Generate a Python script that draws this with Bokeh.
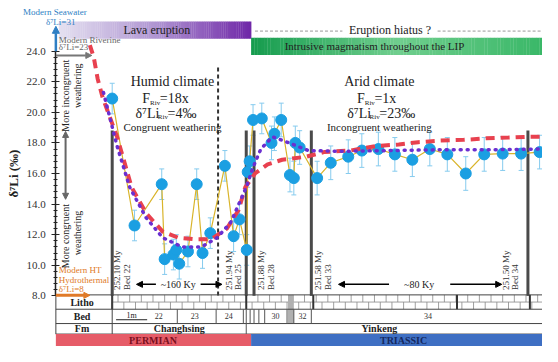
import numpy as np
from bokeh.plotting import figure
from bokeh.models import (Range1d, FixedTicker, PrintfTickFormatter, Label, Arrow,
                          NormalHead, Whisker, TeeHead, ColumnDataSource)
from bokeh.embed import file_html
from bokeh.resources import INLINE

# ---------------- data ----------------
# stratigraphic position along the section (arbitrary units) and measured d7Li (permil)
sample_pos = [115, 138, 166, 169, 178, 181, 184, 193, 202, 208,
              216, 231, 240, 246, 253.5, 254.5, 256.5, 260, 269, 279,
              282, 289, 298, 302, 303.5, 308, 326, 340, 358, 372,
              389, 406, 424, 442, 460, 479, 498, 517, 536, 555]
d7li = [20.9, 12.6, 15.3, 10.4, 10.7, 11.0, 10.1, 10.9, 15.3, 10.8,
        12.1, 16.5, 11.9, 13.0, 11.0, 16.1, 16.8, 19.5, 19.6, 18.0,
        18.6, 19.5, 15.9, 15.7, 18.0, 17.7, 15.7, 16.7, 17.1, 17.5,
        17.6, 17.25, 16.9, 17.6, 17.25, 16.0, 17.25, 17.3, 17.3, 17.4]
d7li_err = [1.0, 1.0, 1.0, 1.0, 1.0, 1.0, 1.0, 1.0, 1.0, 1.0,
            1.0, 1.0, 1.0, 1.0, 1.0, 1.0, 1.0, 1.0, 1.0, 1.1,
            1.1, 1.1, 1.1, 1.1, 1.1, 1.1, 1.1, 1.1, 1.1, 1.1,
            1.1, 1.1, 1.1, 1.1, 1.1, 1.1, 1.1, 1.1, 1.1, 1.1]

# model curve A (red dashed)
model_a_pos = [92, 96, 100, 105, 120, 135, 150, 167, 183, 200,
               217, 233, 245, 252, 262, 275, 290, 315, 333, 360,
               387, 410, 430, 453, 477, 500, 523, 543, 558]
model_a_val = [24.4, 23.6, 22.2, 21.0, 18.4, 15.1, 13.4, 12.2, 11.8, 11.7,
               11.7, 12.4, 13.6, 15.1, 16.0, 16.6, 16.9, 17.1, 17.4, 17.5,
               17.8, 17.9, 18.05, 18.15, 18.2, 18.3, 18.35, 18.4, 18.4]
# model curve B (purple dotted)
model_b_pos = [106, 120, 133, 150, 167, 187, 207, 223, 237, 253,
               260, 268, 280, 293, 317, 350, 400, 450, 500, 558]
model_b_val = [21.3, 17.8, 15.1, 13.1, 11.8, 11.2, 11.2, 11.8, 12.8, 15.1,
               16.4, 17.6, 18.4, 18.1, 17.5, 17.45, 17.5, 17.55, 17.55, 17.6]

# stratigraphic markers
marker_pos = [115, 224, 253, 261, 320, 543]
marker_dashed = [False, True, False, False, False, False]
age_labels = ["252.10 My", "251.94 My", "251.88 My", "251.58 My", "251.50 My"]
bed_labels = ["Bed 22", "Bed 25", "Bed 28", "Bed 33", "Bed 34"]
age_label_pos = [120, 235, 268, 327, 520]

bed_names = ["22", "23", "24", "30", "32", "34"]
bed_name_pos = [163, 200, 235, 283, 311, 440]
bed_dividers = [182, 222, 250, 253, 257, 261, 266, 272, 295, 302, 320]

y_ticks = [8, 10, 12, 14, 16, 18, 20, 22, 24]

# ---------------- layout helpers ----------------
W, H = 542, 346
X0, X1 = 0, 558
AX = 57          # position of the d7Li axis within the panel


def yv(py):
    return 24 - (py - 53) / 16.0


Y0, Y1 = yv(362), yv(0)
SERIF = "Liberation Serif"

p = figure(width=W, height=H, x_range=Range1d(X0, X1), y_range=Range1d(Y0, Y1),
           output_backend="svg", toolbar_location=None, x_axis_type=None,
           min_border=0)
p.outline_line_color = None
p.ygrid.grid_line_color = None
p.background_fill_color = "white"

ax = p.yaxis[0]
ax.fixed_location = AX
ax.bounds = (8, 24)
ax.ticker = FixedTicker(ticks=y_ticks, minor_ticks=list(np.arange(8, 24.01, 0.4)))
ax.formatter = PrintfTickFormatter(format="%.1f")
ax.axis_line_color = "#222"
ax.axis_line_width = 1.5
ax.major_tick_in = 4
ax.major_tick_out = 4
ax.minor_tick_in = 2
ax.minor_tick_out = 2
ax.major_tick_line_color = "#222"
ax.minor_tick_line_color = "#222"
ax.major_label_text_font = SERIF
ax.major_label_text_font_size = "11px"
ax.major_label_text_color = "#333"
ax.major_label_standoff = 6
ax.axis_label = "δ⁷Li (‰)"
ax.axis_label_text_font = SERIF
ax.axis_label_text_font_size = "13px"
ax.axis_label_text_font_style = "bold"
ax.axis_label_text_color = "#222"
ax.axis_label_standoff = 2


def lab(x, py, text, size=11, color="#222", align="center", baseline="middle",
        angle=0.0, style="normal"):
    p.add_layout(Label(x=x, y=yv(py), text=text, text_font=SERIF,
                       text_font_size=f"{size}px", text_color=color,
                       text_align=align, text_baseline=baseline, angle=angle,
                       text_font_style=style))


def hexc(rgb):
    return "#%02x%02x%02x" % tuple(int(round(v)) for v in rgb)


def gradient_bar(x0, x1, pyt, pyb, stops, n=90):
    xs = np.linspace(x0, x1, n + 1)
    t = np.linspace(0, 1, n)
    st = np.array([s[0] for s in stops])
    cols = []
    for tt in t:
        c = [np.interp(tt, st, [s[1][k] for s in stops]) for k in range(3)]
        cols.append(hexc(c))
    p.quad(left=xs[:-1], right=xs[1:] + 0.3, top=[yv(pyt)] * n, bottom=[yv(pyb)] * n,
           fill_color=cols, line_color=None)


# ---------------- top bars ----------------
gradient_bar(60, 258, 22, 40, [(0, (228, 224, 240)), (0.5, (176, 150, 210)), (1, (112, 40, 168))])
gradient_bar(258, 558, 39, 57, [(0, (22, 156, 78)), (0.5, (112, 206, 142)), (1, (58, 184, 104))])
lab(161, 31, "Lava eruption", size=12)
lab(385, 48, "Intrusive magmatism throughout the LIP", size=11)
p.segment(x0=[262, 450], y0=[yv(32)] * 2, x1=[352, 558], y1=[yv(32)] * 2,
          line_color="#9a9a9a", line_dash="3 2", line_width=1)
lab(401, 31, "Eruption hiatus ?", size=12)

# ---------------- left-side references ----------------
p.add_layout(Arrow(end=NormalHead(size=7, fill_color="#2f7fc4", line_color="#2f7fc4"),
                   x_start=AX, y_start=24, x_end=AX, y_end=yv(27),
                   line_color="#2f7fc4", line_width=2.5))
lab(56, 12, "Modern Seawater", size=9, color="#2f7fc4")
lab(62, 22, "δ⁷Li=31", size=9, color="#2f7fc4")

p.add_layout(Arrow(end=NormalHead(size=6, fill_color="#777", line_color="#777"),
                   x_start=AX, y_start=yv(57.5), x_end=94, y_end=yv(57.5),
                   line_color="#777", line_width=2))
lab(60, 41, "Modern Riverine", size=9, color="#666", align="left")
lab(60, 49, "δ⁷Li=23", size=9, color="#666", align="left")

p.add_layout(Arrow(end=NormalHead(size=6, fill_color="#e07a28", line_color="#e07a28"),
                   x_start=AX, y_start=yv(308.5), x_end=92, y_end=yv(308.5),
                   line_color="#e07a28", line_width=3))
lab(60, 282, "Modern HT", size=9, color="#e07a28", align="left")
lab(60, 292, "Hydrothermal", size=9, color="#e07a28", align="left")
lab(60, 302, "δ⁷Li=8", size=9, color="#e07a28", align="left")

lab(67, 62, "More incongruent", size=10, align="right", angle=np.pi / 2)
lab(79, 66, "weathering", size=10, align="right", angle=np.pi / 2)
lab(67, 213, "More congruent", size=10, align="right", angle=np.pi / 2)
lab(79, 220, "weathering", size=10, align="right", angle=np.pi / 2)
p.add_layout(Arrow(start=NormalHead(size=6, fill_color="#666", line_color="#666"),
                   end=NormalHead(size=6, fill_color="#666", line_color="#666"),
                   x_start=67, y_start=yv(137), x_end=67, y_end=yv(208),
                   line_color="#666", line_width=2))

# ---------------- stratigraphic marker lines ----------------
for xm, dashed in zip(marker_pos, marker_dashed):
    if dashed:
        p.segment(x0=[xm], y0=[yv(70)], x1=[xm], y1=[8], line_color="#333",
                  line_width=2, line_dash="4 3")
    else:
        p.segment(x0=[xm], y0=[yv(136)], x1=[xm], y1=[8], line_color="#4a4a4a",
                  line_width=3)

for xl, a, b in zip(age_label_pos, age_labels, bed_labels):
    lab(xl, 303, a, size=9, color="#333", align="left", angle=np.pi / 2)
    lab(xl + 10, 303, b, size=9, color="#333", align="left", angle=np.pi / 2)

# durations
for xs, xe in [(160, 140), (206, 228), (400, 348), (463, 516)]:
    p.add_layout(Arrow(end=NormalHead(size=6, fill_color="black", line_color="black"),
                       x_start=xs, y_start=yv(297), x_end=xe, y_end=yv(297),
                       line_color="black", line_width=1.5))
lab(183, 297, "~160 Ky", size=10)
lab(431, 297, "~80 Ky", size=10)

# ---------------- climate annotations ----------------
lab(177, 85, "Humid climate", size=14)
lab(146, 103, "F", size=14, align="left")
lab(154, 107, "Riv", size=7, align="left")
lab(164, 103, "=18x", size=14, align="left")
lab(139, 118, "δ⁷Li", size=14, align="left")
lab(162, 122, "Riv", size=7, align="left")
lab(172, 118, "=4‰", size=14, align="left")
lab(177, 132, "Congruent weathering", size=11)

lab(390, 85, "Arid climate", size=14)
lab(367, 103, "F", size=14, align="left")
lab(375, 107, "Riv", size=7, align="left")
lab(385, 103, "=1x", size=14, align="left")
lab(357, 118, "δ⁷Li", size=14, align="left")
lab(380, 122, "Riv", size=7, align="left")
lab(390, 118, "=23‰", size=14, align="left")
lab(390, 132, "Incongruent weathering", size=11)

# ---------------- data ----------------
src = ColumnDataSource(dict(x=sample_pos, y=d7li,
                            upper=[v + e for v, e in zip(d7li, d7li_err)],
                            lower=[v - e for v, e in zip(d7li, d7li_err)]))
p.line("x", "y", source=src, line_color="#d9b42a", line_width=1.2)
p.add_layout(Whisker(source=src, base="x", upper="upper", lower="lower",
                     dimension="height", line_color="#86cbee", line_width=1,
                     upper_head=TeeHead(size=5, line_color="#86cbee"),
                     lower_head=TeeHead(size=5, line_color="#86cbee")))
p.scatter("x", "y", source=src, marker="circle", size=11, fill_color="#1b9fe2",
          line_color="#1b9fe2")
p.line(model_a_pos, model_a_val, line_color="#e8414f", line_width=4, line_dash="9 6")
p.line(model_b_pos, model_b_val, line_color="#6b2fd0", line_width=3.5, line_dash="1 6",
       line_cap="round")

# ---------------- bottom table ----------------
# limestone pattern
n_br = int((558 - 115) / 12) + 1
up_x = [115 + 6 + 12 * k for k in range(n_br)]
lo_x = [115 + 12 * k for k in range(n_br)]
p.segment(x0=up_x, y0=[yv(308)] * n_br, x1=up_x, y1=[yv(315.5)] * n_br, line_color="#888", line_width=0.8)
p.segment(x0=lo_x, y0=[yv(315.5)] * n_br, x1=lo_x, y1=[yv(323)] * n_br, line_color="#888", line_width=0.8)
p.segment(x0=[115], y0=[yv(315.5)], x1=[558], y1=[yv(315.5)], line_color="#888", line_width=0.8)
p.quad(left=[296], right=[302], top=[yv(308)], bottom=[yv(338)], fill_color="#b0b0b0", line_color=None)
p.segment(x0=[115, 253, 322, 470, 545], y0=[yv(308)] * 5, x1=[115, 253, 322, 470, 545],
          y1=[yv(323)] * 5, line_color="#333", line_width=2)

# row lines
p.segment(x0=[AX] * 4, y0=[yv(v) for v in (308, 323, 338, 349)], x1=[558] * 4,
          y1=[yv(v) for v in (308, 323, 338, 349)], line_color="#444", line_width=1)
p.segment(x0=[AX, 115], y0=[yv(308)] * 2, x1=[AX, 115], y1=[yv(349)] * 2,
          line_color="#444", line_width=1)
p.segment(x0=bed_dividers, y0=[yv(323)] * len(bed_dividers), x1=bed_dividers,
          y1=[yv(338)] * len(bed_dividers), line_color="#555", line_width=1)
p.segment(x0=[253], y0=[yv(338)], x1=[253], y1=[yv(349)], line_color="#555", line_width=1)

lab(84, 315.5, "Litho", size=10, style="bold")
lab(84, 330.5, "Bed", size=10, style="bold")
lab(84, 343.5, "Fm", size=10, style="bold")
for nm, xp in zip(bed_names, bed_name_pos):
    lab(xp, 330.5, nm, size=8, color="#333")
p.segment(x0=[119], y0=[yv(334)], x1=[151], y1=[yv(334)], line_color="#222", line_width=1)
lab(135, 330, "1m", size=8, color="#222")
lab(184, 343.5, "Changhsing", size=10, style="bold")
lab(390, 343.5, "Yinkeng", size=10, style="bold")

p.quad(left=[AX], right=[258], top=[yv(349)], bottom=[yv(362)], fill_color="#e65c68", line_color=None)
p.quad(left=[258], right=[558], top=[yv(349)], bottom=[yv(362)], fill_color="#3e6fc3", line_color=None)
lab(157, 355.5, "PERMIAN", size=10, color="#7a0f1e", style="bold")
lab(415, 355.5, "TRIASSIC", size=10, color="#14285e", style="bold")

open("out.html", "w").write(file_html(p, INLINE))
